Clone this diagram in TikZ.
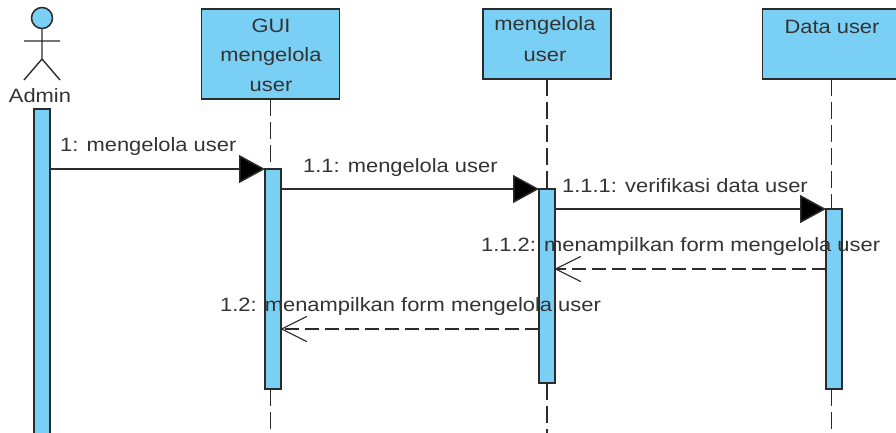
\documentclass[tikz,border=0pt]{standalone}
\usepackage{fontspec}
\setmainfont[FakeStretch=1.135]{Liberation Sans}
\usetikzlibrary{arrows.meta,calc}
\definecolor{umlblue}{HTML}{7ACFF5}
\definecolor{umlline}{HTML}{2B2B2B}
\definecolor{umltext}{HTML}{333333}
\tikzset{
  x=1pt,y=-1pt,
  umlbox/.style={draw=umlline,fill=umlblue,line width=1.7pt,minimum width=#1,inner sep=0pt,outer sep=0pt},
  classbox/.style={umlbox=#1,anchor=north},
  actbox/.style={draw=umlline,fill=umlblue,line width=1.5pt,anchor=north west,minimum width=16pt,inner sep=0pt,outer sep=0pt},
  lifeline/.style={draw=umlline,line width=1.3pt,dash pattern=on 17pt off 6pt},
  callmsg/.style={draw=umlline,line width=1.5pt,-{Triangle[length=26pt,width=28pt,fill=black]}},
  retmsg/.style={draw=umlline,line width=1.4pt,dash pattern=on 14pt off 6pt,-{Straight Barb[length=25pt,width=25pt,line width=1.1pt,round]}},
  lbl/.style={text=umltext,font=\fontsize{19.3pt}{22pt}\selectfont,inner sep=0pt},
  boxlbl/.style={lbl,align=center},
}
\begin{document}
\begin{tikzpicture}
\useasboundingbox (0,0) rectangle (896,432);
\clip (0,0) rectangle (896,432);
% coordinates
\coordinate (bottom) at (0,436);
\coordinate (m1) at (0,169);
\coordinate (m2) at (0,189);
\coordinate (m3) at (0,209);
\coordinate (m4) at (0,269);
\coordinate (m5) at (0,329);
% classifier boxes
\node[classbox=138pt,minimum height=90pt] (gui) at (270.5,9) {};
\node[classbox=128pt,minimum height=70pt] (mgr) at (547,9) {};
\node[classbox=138pt,minimum height=70pt] (data) at (831.5,9) {};
\node[boxlbl] (guit1) at (271,25.5) {GUI};
\node[boxlbl] (guit2) at (271,56.5) {mengelola};
\node[boxlbl] (guit3) at (271,86.5) {user};
\node[boxlbl] (mgrt1) at (545,26) {mengelola};
\node[boxlbl] (mgrt2) at (545,56.5) {user};
\node[boxlbl] (datat) at (832,26.5) {Data user};
% activations
\node[actbox,minimum height=330pt] (a0) at (34,109) {};
\node[actbox,minimum height=220pt] (a1) at (265,169) {};
\node[actbox,minimum height=194pt] (a2) at (539,189) {};
\node[actbox,minimum height=180pt] (a3) at (826,209) {};
% lifelines
\draw[lifeline] (gui.south) -- (gui.south |- a1.north);
\draw[lifeline] (gui.south |- a1.south) -- (gui.south |- bottom);
\draw[lifeline] (mgr.south) -- (mgr.south |- a2.north);
\draw[lifeline] (mgr.south |- a2.south) -- (mgr.south |- bottom);
\draw[lifeline] (data.south) -- (data.south |- a3.north);
\draw[lifeline] (data.south |- a3.south) -- (data.south |- bottom);
% actor
\node[circle,draw=umlline,fill=umlblue,line width=1.5pt,minimum size=21pt,inner sep=0pt,outer sep=0pt] (head) at (42,18) {};
\coordinate (hip) at (42,59);
\coordinate (armL) at (24,41);
\coordinate (armR) at (60,41);
\coordinate (footL) at (24,80);
\coordinate (footR) at (60,80);
\draw[draw=umlline,line width=1.4pt] (head.south) -- (hip) (armL) -- (armR) (footL) -- (hip) -- (footR);
\node[lbl] (admin) at (40,96) {Admin};
% messages
\draw[callmsg] (a0.east |- m1) -- (a1.west |- m1);
\draw[callmsg] (a1.east |- m2) -- (a2.west |- m2);
\draw[callmsg] (a2.east |- m3) -- (a3.west |- m3);
\draw[retmsg] (a3.west |- m4) -- (a2.east |- m4);
\draw[retmsg] (a2.west |- m5) -- (a1.east |- m5);
% message labels
\node[lbl,anchor=west] (l1) at (60,147) {1: mengelola user};
\node[lbl,anchor=west] (l2) at (303,168) {1.1: mengelola user};
\node[lbl,anchor=west] (l3) at (562,186) {1.1.1: verifikasi data user};
\node[lbl,anchor=west] (l4) at (481,247) {1.1.2: menampilkan form mengelola user};
\node[lbl,anchor=west] (l5) at (220,306.5) {1.2: menampilkan form mengelola user};
\end{tikzpicture}
\end{document}
